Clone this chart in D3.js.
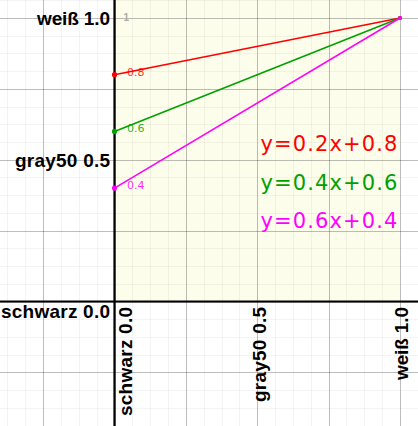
<!DOCTYPE html>
<html><head><meta charset="utf-8">
<script src="https://cdn.jsdelivr.net/npm/d3@7"></script>
<style>html,body{margin:0;padding:0;background:#fff;}svg{display:block;}</style>
</head><body>
<script>
// ---- data ----
const tickValues = [0, 0.5, 1];
const tickLabels = ["schwarz 0.0", "gray50 0.5", "weiß 1.0"];
const tickLabelLengths = [109, 95, 73];
const lineNames = ["y=0.2x+0.8", "y=0.4x+0.6", "y=0.6x+0.4"];
const lineX0 = [0, 0, 0];
const lineY0 = [0.8, 0.6, 0.4];
const lineX1 = [1, 1, 1];
const lineY1 = [1, 1, 1];
const startLabels = ["0.8", "0.6", "0.4"];
const lineColors = ["#ff0000", "#00a000", "#ff00ff"];
const eqX = [0.511, 0.511, 0.511];
const eqY = [0.531, 0.394, 0.26];

const W = 418, H = 426;
const x = d3.scaleLinear().domain([0, 1]).range([114.5, 400]);
const y = d3.scaleLinear().domain([0, 1]).range([301.5, 18]);
const xMin = x.invert(0), xMax = x.invert(W), yMin = y.invert(H), yMax = y.invert(0);

const svg = d3.select("body").append("svg").attr("width", W).attr("height", H);

// shaded unit region
svg.append("rect").attr("x", x(0)).attr("y", 0)
  .attr("width", x(1) - x(0)).attr("height", y(0))
  .attr("fill", "#fdfdec");

// grid
const isMajor = d => Math.abs(d * 4 - Math.round(d * 4)) <= 1e-9;
const minorX = d3.range(Math.ceil(xMin * 16), Math.floor(xMax * 16) + 1).map(d => d / 16);
const minorY = d3.range(Math.ceil(yMin * 16), Math.floor(yMax * 16) + 1).map(d => d / 16);
const g = svg.append("g").attr("shape-rendering", "crispEdges");
g.selectAll(".mvx").data(minorX.filter(d => !isMajor(d))).join("line")
  .attr("x1", d => Math.round(x(d)) + 0.5).attr("x2", d => Math.round(x(d)) + 0.5)
  .attr("y1", 0).attr("y2", H).attr("stroke", "#000").attr("stroke-opacity", 0.045);
g.selectAll(".mhy").data(minorY.filter(d => !isMajor(d))).join("line")
  .attr("y1", d => Math.round(y(d)) + 0.5).attr("y2", d => Math.round(y(d)) + 0.5)
  .attr("x1", 0).attr("x2", W).attr("stroke", "#000").attr("stroke-opacity", 0.045);
g.selectAll(".Mvx").data(minorX.filter(isMajor)).join("line")
  .attr("x1", d => Math.round(x(d)) + 0.5).attr("x2", d => Math.round(x(d)) + 0.5)
  .attr("y1", 0).attr("y2", H).attr("stroke", "#000").attr("stroke-opacity", 0.26);
g.selectAll(".Mhy").data(minorY.filter(isMajor)).join("line")
  .attr("y1", d => Math.round(y(d)) + 0.5).attr("y2", d => Math.round(y(d)) + 0.5)
  .attr("x1", 0).attr("x2", W).attr("stroke", "#000").attr("stroke-opacity", 0.26);

// axes
svg.append("line").attr("x1", 0).attr("x2", W).attr("y1", y(0)).attr("y2", y(0))
  .attr("stroke", "#000").attr("stroke-width", 2);
svg.append("line").attr("x1", x(0)).attr("x2", x(0)).attr("y1", 0).attr("y2", H)
  .attr("stroke", "#000").attr("stroke-width", 2.2);

// y tick labels
svg.selectAll(".yl").data(tickValues).join("text")
  .attr("x", x(0) - 4.5)
  .attr("y", (d) => y(d) + (d === 0 ? 10 : 0))
  .attr("dy", "0.36em")
  .attr("text-anchor", "end")
  .attr("font-family", "Liberation Sans, Arial, sans-serif")
  .attr("font-weight", "bold").attr("font-size", 19)
  .attr("textLength", (d, i) => tickLabelLengths[i])
  .text((d, i) => tickLabels[i]);

// x tick labels (rotated)
svg.selectAll(".xl").data(tickValues).join("text")
  .attr("transform", d => `translate(${x(d) + (d === 0 ? 10.5 : 1.5)},${y(0) + 5.5}) rotate(-90)`)
  .attr("dy", "0.36em")
  .attr("text-anchor", "end")
  .attr("font-family", "Liberation Sans, Arial, sans-serif")
  .attr("font-weight", "bold").attr("font-size", 19)
  .attr("textLength", (d, i) => tickLabelLengths[i])
  .text((d, i) => tickLabels[i]);

// lines
lineNames.forEach((name, i) => {
  svg.append("line")
    .attr("x1", x(lineX0[i])).attr("y1", y(lineY0[i]))
    .attr("x2", x(lineX1[i])).attr("y2", y(lineY1[i]))
    .attr("stroke", lineColors[i]).attr("stroke-width", 1.6);
  svg.append("circle").attr("cx", x(lineX0[i])).attr("cy", y(lineY0[i])).attr("r", 2.6).attr("fill", lineColors[i]);
  svg.append("circle").attr("cx", x(lineX1[i])).attr("cy", y(lineY1[i])).attr("r", 2).attr("fill", lineColors[i]);
  svg.append("text").attr("x", x(lineX0[i]) + 12.5).attr("y", y(lineY0[i]) + 1)
    .attr("font-family", "DejaVu Sans, sans-serif").attr("font-size", 11)
    .attr("fill", lineColors[i]).attr("fill-opacity", 0.85).text(startLabels[i]);
  svg.append("text").attr("x", x(eqX[i])).attr("y", y(eqY[i]))
    .attr("font-family", "DejaVu Sans, sans-serif").attr("font-size", 21)
    .attr("textLength", 137)
    .attr("fill", lineColors[i]).text(name);
});
// top value label
svg.append("text").attr("x", x(0) + 9).attr("y", y(1) + 3)
  .attr("font-family", "Liberation Sans, Arial, sans-serif").attr("font-size", 10)
  .attr("font-weight", "bold")
  .attr("fill", "#aaa").text("1");
</script>
</body></html>
